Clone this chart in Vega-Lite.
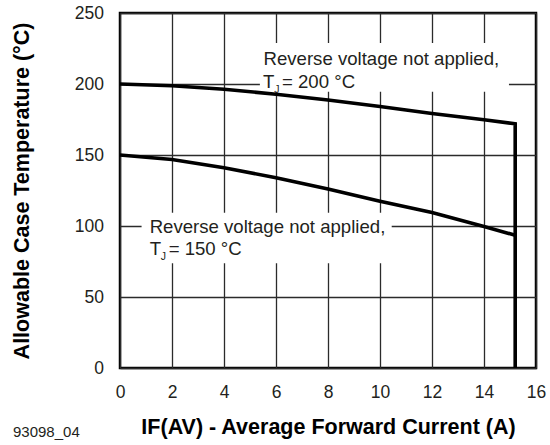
{
  "$schema": "https://vega.github.io/schema/vega-lite/v6.json",
  "width": 416,
  "height": 355,
  "autosize": {"type": "none"},
  "padding": {"left": 120, "top": 13, "right": 14, "bottom": 77},
  "config": {
    "font": "Liberation Sans",
    "view": {"stroke": "#000000", "strokeWidth": 2.5},
    "axis": {
      "domain": false,
      "ticks": false,
      "labelFont": "Liberation Sans",
      "labelFontSize": 17.5,
      "labelColor": "#231f20",
      "labelFlush": false,
      "titleFont": "Liberation Sans",
      "titleFontSize": 21.5,
      "titleFontWeight": "bold",
      "titleColor": "#000000"
    }
  },
  "title": {
    "text": "93098_04",
    "orient": "bottom",
    "anchor": "start",
    "frame": "group",
    "font": "Liberation Sans",
    "fontSize": 15,
    "fontWeight": "normal",
    "color": "#231f20",
    "baseline": "alphabetic",
    "dx": -107,
    "offset": -1.5
  },
  "datasets": {
    "boxes": [
      {"x": 5.38, "xe": 14.96, "y": 194.5, "ye": 228.9},
      {"x": 0.83, "xe": 10.45, "y": 73.7, "ye": 109.4}
    ],
    "curves": [
      {"series": "Tj 200", "i": 0, "x": 0, "y": 200},
      {"series": "Tj 200", "i": 1, "x": 2, "y": 198.8},
      {"series": "Tj 200", "i": 2, "x": 4, "y": 196.3},
      {"series": "Tj 200", "i": 3, "x": 6, "y": 192.8},
      {"series": "Tj 200", "i": 4, "x": 8, "y": 188.7},
      {"series": "Tj 200", "i": 5, "x": 10, "y": 184.2},
      {"series": "Tj 200", "i": 6, "x": 12, "y": 179.2},
      {"series": "Tj 200", "i": 7, "x": 14, "y": 174.8},
      {"series": "Tj 200", "i": 8, "x": 15.2, "y": 172},
      {"series": "Tj 200", "i": 9, "x": 15.2, "y": 0},
      {"series": "Tj 150", "i": 0, "x": 0, "y": 150},
      {"series": "Tj 150", "i": 1, "x": 2, "y": 146.8},
      {"series": "Tj 150", "i": 2, "x": 4, "y": 141},
      {"series": "Tj 150", "i": 3, "x": 6, "y": 134},
      {"series": "Tj 150", "i": 4, "x": 8, "y": 126},
      {"series": "Tj 150", "i": 5, "x": 10, "y": 117.5},
      {"series": "Tj 150", "i": 6, "x": 12, "y": 109.5},
      {"series": "Tj 150", "i": 7, "x": 14, "y": 99.6},
      {"series": "Tj 150", "i": 8, "x": 15.2, "y": 93.5}
    ],
    "notes": [
      {"x": 5.52, "y": 213.4, "line": "Reverse voltage not applied,"},
      {"x": 1.14, "y": 95.3, "line": "Reverse voltage not applied,"}
    ],
    "temps": [
      {"x": 5.5, "y": 197.5, "sym": "T", "sub": "J", "rest": "= 200 °C"},
      {"x": 1.14, "y": 79.4, "sym": "T", "sub": "J", "rest": "= 150 °C"}
    ]
  },
  "encoding": {
    "x": {
      "field": "x",
      "type": "quantitative",
      "scale": {"domain": [0, 16], "nice": false, "zero": false},
      "axis": {
        "values": [0, 2, 4, 6, 8, 10, 12, 14, 16],
        "title": "IF(AV) - Average Forward Current (A)",
        "grid": true,
        "gridColor": "#2b2b2b",
        "gridWidth": 1.3,
        "gridOpacity": 1,
        "labelPadding": 15,
        "titlePadding": 16
      }
    },
    "y": {
      "field": "y",
      "type": "quantitative",
      "scale": {"domain": [0, 250], "nice": false},
      "axis": {
        "values": [0, 50, 100, 150, 200, 250],
        "title": "Allowable Case Temperature (°C)",
        "grid": true,
        "gridColor": "#2b2b2b",
        "gridWidth": 1.3,
        "gridOpacity": 1,
        "labelPadding": 16.5,
        "titlePadding": 41
      }
    }
  },
  "layer": [
    {
      "data": {"name": "boxes"},
      "mark": {"type": "rect", "fill": "#ffffff", "strokeWidth": 0},
      "encoding": {
        "x2": {"field": "xe"},
        "y2": {"field": "ye"}
      }
    },
    {
      "data": {"name": "curves"},
      "mark": {"type": "line", "color": "#000000", "strokeWidth": 3.6, "strokeJoin": "miter"},
      "encoding": {
        "detail": {"field": "series", "type": "nominal"},
        "order": {"field": "i", "type": "quantitative"}
      }
    },
    {
      "data": {"name": "notes"},
      "mark": {"type": "text", "align": "left", "baseline": "alphabetic", "fontSize": 18.6, "color": "#231f20", "font": "Liberation Sans"},
      "encoding": {
        "text": {"field": "line", "type": "nominal"}
      }
    },
    {
      "data": {"name": "temps"},
      "mark": {"type": "text", "align": "left", "baseline": "alphabetic", "fontSize": 18.6, "color": "#231f20", "font": "Liberation Sans"},
      "encoding": {
        "text": {"field": "sym", "type": "nominal"}
      }
    },
    {
      "data": {"name": "temps"},
      "mark": {"type": "text", "align": "left", "baseline": "alphabetic", "fontSize": 10.5, "dx": 11.2, "dy": 5, "color": "#231f20", "font": "Liberation Sans"},
      "encoding": {
        "text": {"field": "sub", "type": "nominal"}
      }
    },
    {
      "data": {"name": "temps"},
      "mark": {"type": "text", "align": "left", "baseline": "alphabetic", "fontSize": 18.6, "dx": 19, "color": "#231f20", "font": "Liberation Sans"},
      "encoding": {
        "text": {"field": "rest", "type": "nominal"}
      }
    }
  ]
}
